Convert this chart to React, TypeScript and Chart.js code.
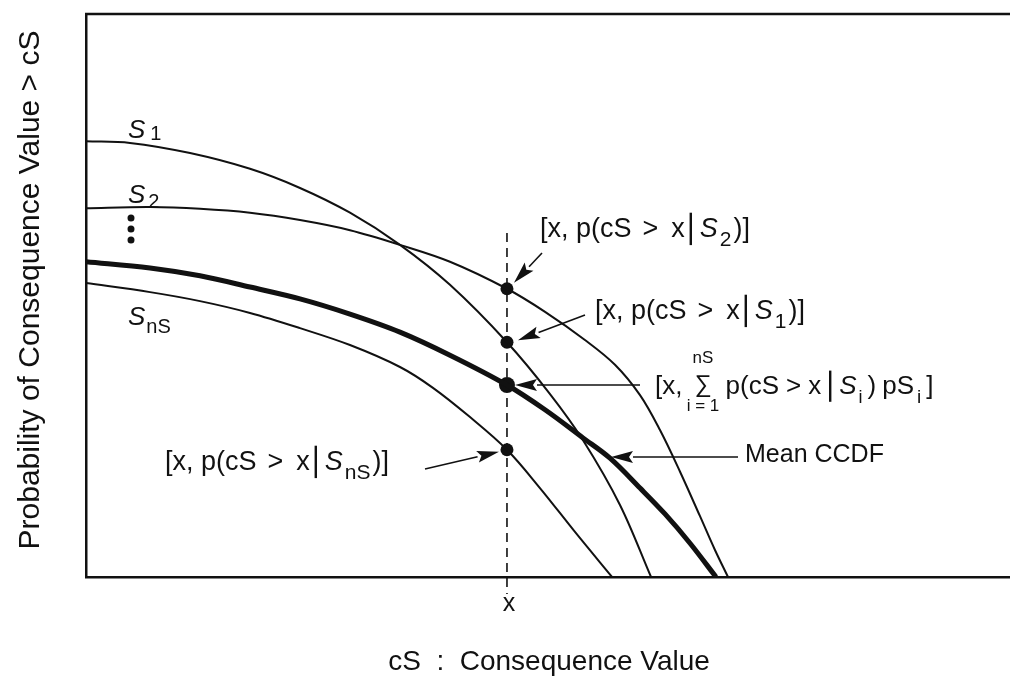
import React, { useEffect, useRef } from "react";
import { Chart, registerables } from "chart.js";

Chart.register(...registerables);

const FONT = '"Liberation Sans", Arial, Helvetica, sans-serif';

// Consequence value (relative units, 0-100) and exceedance probability (0-1)
const s1X = [0, 4.76, 11.26, 17.75, 23.16, 28.57, 33.98, 39.39, 45.56, 50.22, 53.79, 57.79, 61.15];
const s1Y = [0.774, 0.771, 0.753, 0.725, 0.691, 0.647, 0.59, 0.519, 0.417, 0.325, 0.243, 0.128, 0];

const s2X = [0, 6.93, 12.34, 17.75, 23.16, 28.57, 33.98, 39.39, 45.56, 49.68, 54.0, 57.25, 59.96, 62.12, 64.29, 66.45, 68.07, 69.48];
const s2Y = [0.655, 0.657, 0.654, 0.647, 0.634, 0.616, 0.59, 0.56, 0.512, 0.471, 0.421, 0.377, 0.323, 0.261, 0.187, 0.108, 0.048, 0];

const meanX = [0, 6.93, 12.34, 17.75, 23.16, 28.57, 33.98, 39.39, 45.56, 49.68, 53.79, 56.71, 59.96, 62.66, 65.37, 68.18];
const meanY = [0.56, 0.549, 0.535, 0.515, 0.494, 0.467, 0.435, 0.394, 0.341, 0.297, 0.247, 0.211, 0.158, 0.112, 0.06, 0];

const snsX = [0, 6.93, 12.34, 17.75, 23.16, 28.57, 33.98, 37.55, 41.56, 45.56, 49.13, 52.92, 56.93];
const snsY = [0.522, 0.506, 0.49, 0.469, 0.442, 0.412, 0.373, 0.336, 0.284, 0.226, 0.158, 0.08, 0];

// the chosen consequence value x and the curve values read there: S2, S1, mean, SnS
const markerX = 45.56;
const markerY = [0.512, 0.417, 0.341, 0.226];
const markerR = [6.5, 6.5, 8, 6.5];

const xTickLabels = ["x"];
const xTitle = "cS  :  Consequence Value";
const yTitle = "Probability of Consequence Value > cS";

const pts = (xs: number[], ys: number[]) => xs.map((x, i) => ({ x, y: ys[i] }));

type Seg = { t?: string; size?: number; italic?: boolean; dy?: number; bar?: boolean; gap?: number };

function drawRich(ctx: CanvasRenderingContext2D, x: number, y: number, segs: Seg[], base: number) {
  let cx = x;
  for (const s of segs) {
    if (s.bar) {
      ctx.save();
      ctx.lineWidth = 2.4;
      ctx.beginPath();
      ctx.moveTo(cx + 6, y - base * 0.9);
      ctx.lineTo(cx + 6, y + base * 0.3);
      ctx.stroke();
      ctx.restore();
      cx += 15;
      continue;
    }
    const size = s.size ?? base;
    ctx.font = `${s.italic ? "italic " : ""}${size}px ${FONT}`;
    ctx.fillText(s.t || "", cx, y + (s.dy ?? 0));
    cx += ctx.measureText(s.t || "").width + (s.gap ?? 0);
  }
  return cx;
}

function arrow(ctx: CanvasRenderingContext2D, x0: number, y0: number, x1: number, y1: number) {
  const ang = Math.atan2(y1 - y0, x1 - x0);
  const len = 22;
  const hw = 6;
  const bx = x1 - Math.cos(ang) * len;
  const by = y1 - Math.sin(ang) * len;
  ctx.save();
  ctx.lineWidth = 1.6;
  ctx.beginPath();
  ctx.moveTo(x0, y0);
  ctx.lineTo(bx, by);
  ctx.stroke();
  ctx.beginPath();
  ctx.moveTo(x1, y1);
  ctx.lineTo(bx - Math.sin(ang) * hw, by + Math.cos(ang) * hw);
  ctx.lineTo(bx + Math.cos(ang) * 4, by + Math.sin(ang) * 4);
  ctx.lineTo(bx + Math.sin(ang) * hw, by - Math.cos(ang) * hw);
  ctx.closePath();
  ctx.fill();
  ctx.restore();
}

const condSegs = (sub: string, subSize: number): Seg[] => [
  { t: "[x, p(cS", gap: 11 }, { t: ">", gap: 13 }, { t: "x" }, { bar: true },
  { t: "S", italic: true, gap: 2 }, { t: sub, size: subSize, dy: 9, gap: 2 }, { t: ")]" },
];

const annotPlugin = {
  id: "annot",
  beforeDatasetsDraw(chart: any) {
    const ctx: CanvasRenderingContext2D = chart.ctx;
    const xs = chart.scales.x;
    const { left, right, top } = chart.chartArea;
    ctx.save();
    ctx.strokeStyle = "#111";
    ctx.lineWidth = 2.5;
    ctx.beginPath();
    ctx.moveTo(left - 1, top);
    ctx.lineTo(right, top);
    ctx.stroke();
    const px = xs.getPixelForValue(markerX);
    ctx.lineWidth = 1.6;
    ctx.setLineDash([9, 6]);
    ctx.beginPath();
    ctx.moveTo(px, 233);
    ctx.lineTo(px, 594);
    ctx.stroke();
    ctx.restore();
  },
  afterDraw(chart: any) {
    const ctx: CanvasRenderingContext2D = chart.ctx;
    const xs = chart.scales.x;
    const ys = chart.scales.y;
    const px = xs.getPixelForValue(markerX);
    const my = markerY.map((v) => ys.getPixelForValue(v));
    ctx.save();
    ctx.fillStyle = "#111";
    ctx.strokeStyle = "#111";
    ctx.textBaseline = "alphabetic";
    ctx.textAlign = "left";

    ctx.save();
    ctx.font = `30px ${FONT}`;
    ctx.textAlign = "center";
    ctx.textBaseline = "middle";
    ctx.translate(31, 290);
    ctx.rotate(-Math.PI / 2);
    ctx.fillText(yTitle, 0, 0);
    ctx.restore();

    ctx.save();
    ctx.font = `28px ${FONT}`;
    ctx.textAlign = "center";
    ctx.fillText(xTitle, 549, 670);
    ctx.font = `25px ${FONT}`;
    ctx.fillText(xTickLabels[0], px + 2, 611);
    ctx.restore();

    // curve labels
    const B = 26;
    drawRich(ctx, 128, 138, [{ t: "S", italic: true, gap: 5 }, { t: "1", size: 20, dy: 2 }], B);
    drawRich(ctx, 128, 203, [{ t: "S", italic: true, gap: 3 }, { t: "2", size: 20, dy: 5 }], B);
    drawRich(ctx, 128, 325, [{ t: "S", italic: true, gap: 1 }, { t: "nS", size: 20, dy: 8 }], B);
    ctx.beginPath();
    [218, 229, 240].forEach((y) => {
      ctx.moveTo(131 + 3.5, y);
      ctx.arc(131, y, 3.5, 0, Math.PI * 2);
    });
    ctx.fill();

    const A = 27;
    drawRich(ctx, 540, 237, condSegs("2", 21), A);
    arrow(ctx, 542, 253, px + 7, my[0] - 6);

    drawRich(ctx, 595, 319, condSegs("1", 21), A);
    arrow(ctx, 585, 315, px + 11, my[1] - 2);

    // sum annotation
    let cx = drawRich(ctx, 655, 394, [{ t: "[x,", gap: 12 }], 26);
    ctx.font = `24px ${FONT}`;
    const sig = "∑";
    const sw = ctx.measureText(sig).width;
    ctx.fillText(sig, cx, 392);
    ctx.font = `17px ${FONT}`;
    ctx.textAlign = "center";
    ctx.fillText("nS", cx + sw / 2, 363);
    ctx.fillText("i = 1", cx + sw / 2, 411);
    ctx.textAlign = "left";
    cx += sw + 14;
    drawRich(ctx, cx, 394, [
      { t: "p(cS", gap: 7 }, { t: ">", gap: 7 }, { t: "x", gap: 3 }, { bar: true },
      { t: "S", italic: true, gap: 2 },
      { t: "i", size: 18, dy: 9, gap: 5 }, { t: ")", gap: 6 }, { t: "pS", gap: 3 },
      { t: "i", size: 19, dy: 9, gap: 5 }, { t: "]" },
    ], 26);
    arrow(ctx, 640, 385, px + 8, my[2]);

    drawRich(ctx, 745, 462, [{ t: "Mean CCDF" }], 25);
    arrow(ctx, 738, 457, 611, 457);

    drawRich(ctx, 165, 470, condSegs("nS", 21), A);
    arrow(ctx, 425, 469, px - 8, my[3] + 2);

    ctx.restore();
  },
};

export default function App() {
  const ref = useRef<HTMLCanvasElement>(null);
  useEffect(() => {
    document.body.style.margin = "0";
    const thin = { showLine: true, pointRadius: 0, borderColor: "#111", borderWidth: 2, tension: 0.35, fill: false };
    const chart = new Chart(ref.current!, {
      type: "scatter",
      data: {
        datasets: [
          { label: "S1", data: pts(s1X, s1Y), ...thin },
          { label: "S2", data: pts(s2X, s2Y), ...thin },
          { label: "SnS", data: pts(snsX, snsY), ...thin },
          { label: "Mean CCDF", data: pts(meanX, meanY), ...thin, borderWidth: 5 },
          {
            label: "markers",
            data: markerY.map((y) => ({ x: markerX, y })),
            showLine: false,
            pointRadius: markerR,
            pointBackgroundColor: "#111",
            pointBorderColor: "#111",
            pointBorderWidth: 0,
          },
        ],
      },
      options: {
        responsive: false,
        animation: false,
        events: [],
        layout: { autoPadding: false, padding: { left: 86, top: 14, right: 0, bottom: 110 } },
        plugins: { legend: { display: false }, tooltip: { enabled: false } },
        scales: {
          x: {
            type: "linear",
            min: 0,
            max: 100,
            ticks: { display: false },
            grid: { display: false, drawTicks: false },
            border: { display: true, width: 2.5, color: "#111" },
          },
          y: {
            type: "linear",
            min: 0,
            max: 1,
            ticks: { display: false },
            grid: { display: false, drawTicks: false },
            border: { display: true, width: 2.5, color: "#111" },
          },
        },
      },
      plugins: [annotPlugin],
    });
    return () => chart.destroy();
  }, []);
  return (
    <div style={{ width: 1010, height: 687, background: "#fff" }}>
      <canvas ref={ref} width={1010} height={687} />
    </div>
  );
}
